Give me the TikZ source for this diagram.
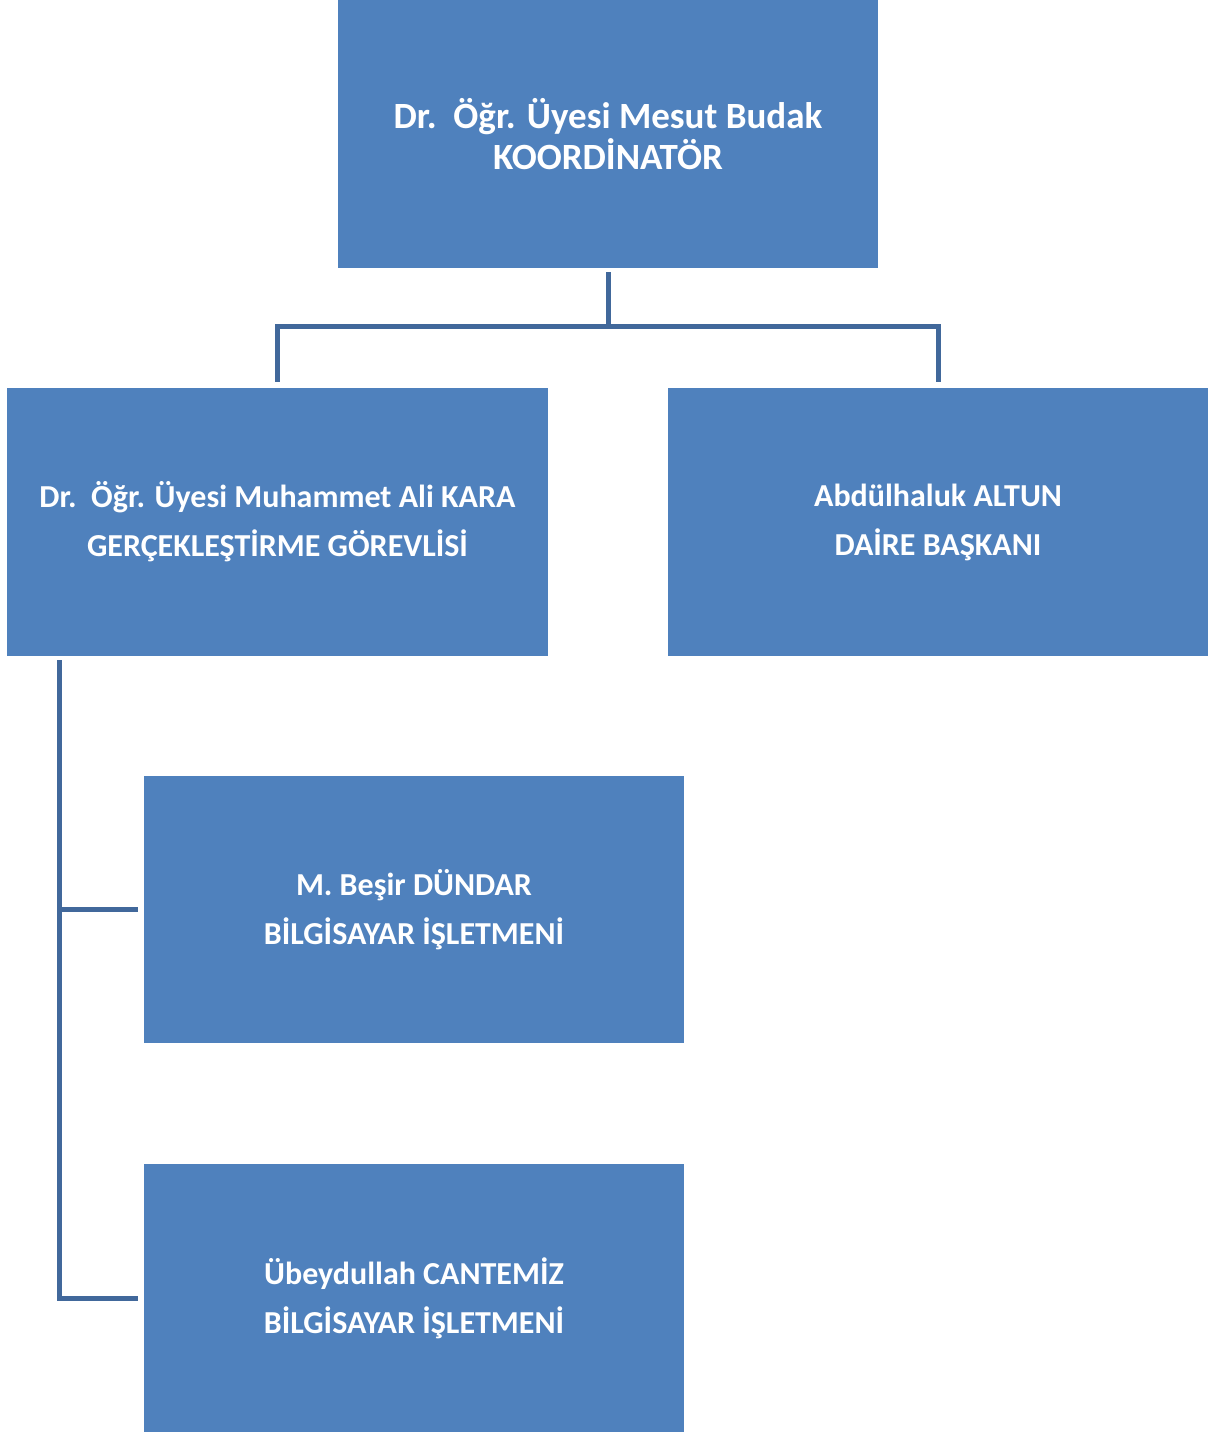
\documentclass[tikz,border=0pt]{standalone}
\usepackage{fontspec}
\setmainfont{Carlito}
\definecolor{boxblue}{HTML}{4F81BD}
\definecolor{lineblue}{HTML}{41689B}
\begin{document}
\begin{tikzpicture}[x=1pt, y=1pt,
  unit/.style={rectangle, fill=boxblue, inner sep=0pt, minimum width=540pt, minimum height=268pt,
    align=center, text=white, font=\bfseries\fontsize{32}{49}\selectfont},
  conn/.style={draw=lineblue, line width=5pt}]
  \useasboundingbox (0,0) rectangle (1208,-1432);
  \node[unit, font=\bfseries\fontsize{37}{41}\selectfont] (koord) at (608,-134) {Dr.\ \ Öğr. Üyesi Mesut Budak\\KOORDİNATÖR};
  \node[unit, minimum width=541pt] (kara) at (277.5,-522) {Dr.\ \ Öğr. Üyesi Muhammet Ali KARA\\GERÇEKLEŞTİRME GÖREVLİSİ};
  \node[unit] (altun) at (938,-522) {Abdülhaluk ALTUN\\DAİRE BAŞKANI};
  \node[unit, minimum height=267pt] (dundar) at (414,-909.5) {M. Beşir DÜNDAR\\BİLGİSAYAR İŞLETMENİ};
  \node[unit] (cantemiz) at (414,-1298) {Übeydullah CANTEMİZ\\BİLGİSAYAR İŞLETMENİ};
  \coordinate (split) at (608,-326);
  \coordinate (spine) at (59,-660);
  \draw[conn] ([yshift=-4pt]koord.south) -- (split);
  \draw[conn] ([yshift=6pt]kara.north) |- (split) -| ([yshift=6pt]altun.north);
  \draw[conn] (spine) |- ([xshift=-6pt]dundar.west);
  \draw[conn] (spine) |- ([xshift=-6pt]cantemiz.west);
\end{tikzpicture}
\end{document}
